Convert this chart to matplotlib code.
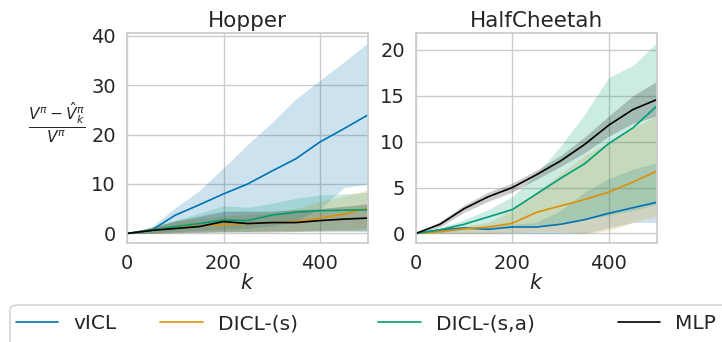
import matplotlib
matplotlib.use("Agg")
import matplotlib.pyplot as plt
from matplotlib.patches import FancyBboxPatch
import seaborn as sns

sns.set_theme(style="whitegrid")
plt.rcParams['font.family'] = ['DejaVu Sans']
plt.rcParams['mathtext.fontset'] = 'dejavusans'

k = [0, 50, 100, 150, 200, 250, 300, 350, 400, 450, 500]
methods = ["vICL", "DICL-(s)", "DICL-(s,a)", "MLP"]
colors = ["#0173b2", "#de8f05", "#029e73", "black"]

# Hopper: mean, lower, upper per method
hop_vicl = [0, 0.6, 3.7, 5.8, 8.0, 10.0, 12.6, 15.1, 18.5, 21.2, 24.0]
hop_vicl_lo = [0, 0.1, 0.4, 0.6, 0.8, 1.0, 1.5, 2.5, 5.0, 9.3, 10.0]
hop_vicl_hi = [0, 1.3, 5.2, 8.7, 13.3, 18.0, 22.4, 27.2, 31.0, 34.7, 38.6]
hop_dicl_s = [0, 0.7, 1.4, 1.5, 1.8, 2.0, 2.2, 2.4, 3.1, 3.9, 5.1]
hop_dicl_s_lo = [0, 0, 0.2, 0.3, 0.3, 0.4, 0.5, 0.5, 0.6, 0.8, 1.0]
hop_dicl_s_hi = [0, 1.0, 2.5, 3.0, 3.5, 3.8, 4.2, 5.0, 6.5, 7.5, 8.8]
hop_dicl_sa = [0, 0.7, 1.4, 2.0, 2.7, 2.6, 3.7, 4.3, 4.6, 4.7, 4.8]
hop_dicl_sa_lo = [0, 0.1, 0.2, 0.3, 0.4, 0.4, 0.5, 0.5, 0.5, 0.5, 0.5]
hop_dicl_sa_hi = [0, 1.3, 2.7, 4.1, 5.6, 5.3, 6.1, 7.1, 7.8, 8.0, 8.3]
hop_mlp = [0, 0.6, 1.0, 1.4, 2.4, 2.0, 2.2, 2.2, 2.6, 2.9, 3.1]
hop_mlp_lo = [0, 0, 0.1, 0.2, 0.3, 0.3, 0.3, 0.4, 0.5, 0.5, 0.5]
hop_mlp_hi = [0, 1.2, 2.5, 3.5, 4.5, 4.5, 4.5, 4.8, 5.0, 5.5, 6.0]

# HalfCheetah
hc_vicl = [0, 0.4, 0.6, 0.45, 0.7, 0.7, 1.0, 1.5, 2.2, 2.8, 3.4]
hc_vicl_lo = [0, 0, 0, 0, 0, 0, 0, 0, 0.6, 1.2, 1.2]
hc_vicl_hi = [0, 0.5, 0.7, 0.8, 1.0, 1.2, 2.5, 4.5, 6.0, 7.0, 7.7]
hc_dicl_s = [0, 0.2, 0.5, 0.7, 1.1, 2.3, 3.0, 3.7, 4.5, 5.6, 6.8]
hc_dicl_s_lo = [0, 0, 0, 0, 0.1, 0.2, 0.2, 0.0, 0.3, 1.2, 1.9]
hc_dicl_s_hi = [0, 0.4, 0.8, 1.2, 2.5, 4.5, 6.5, 8.5, 10.0, 11.5, 12.8]
hc_dicl_sa = [0, 0.4, 1.0, 1.8, 2.6, 4.3, 6.0, 7.6, 9.8, 11.5, 13.9]
hc_dicl_sa_lo = [0, 0.1, 0.4, 0.6, 0.8, 0.9, 1.0, 1.5, 2.0, 2.5, 3.2]
hc_dicl_sa_hi = [0, 0.6, 1.5, 2.6, 4.0, 6.5, 9.5, 13.0, 17.0, 18.3, 20.8]
hc_mlp = [0, 1.0, 2.7, 4.0, 5.0, 6.4, 7.9, 9.7, 11.8, 13.5, 14.6]
hc_mlp_lo = [0, 0.7, 2.3, 3.5, 4.5, 5.9, 7.3, 8.8, 10.6, 12.0, 12.8]
hc_mlp_hi = [0, 1.3, 3.1, 4.5, 5.5, 6.9, 8.5, 10.5, 12.8, 15.0, 16.6]

envs = {
    "Hopper": [(hop_vicl, hop_vicl_lo, hop_vicl_hi),
               (hop_dicl_s, hop_dicl_s_lo, hop_dicl_s_hi),
               (hop_dicl_sa, hop_dicl_sa_lo, hop_dicl_sa_hi),
               (hop_mlp, hop_mlp_lo, hop_mlp_hi)],
    "HalfCheetah": [(hc_vicl, hc_vicl_lo, hc_vicl_hi),
                    (hc_dicl_s, hc_dicl_s_lo, hc_dicl_s_hi),
                    (hc_dicl_sa, hc_dicl_sa_lo, hc_dicl_sa_hi),
                    (hc_mlp, hc_mlp_lo, hc_mlp_hi)],
}

fig = plt.figure(figsize=(7.22, 3.42), dpi=100)
ax1 = fig.add_axes([0.176, 0.2895, 0.334, 0.614])
ax2 = fig.add_axes([0.576, 0.2895, 0.334, 0.614])

for ax, (name, curves) in zip([ax1, ax2], envs.items()):
    for (m, lo, hi), c, lab in zip(curves, colors, methods):
        ax.fill_between(k, lo, hi, color=c, alpha=0.2, linewidth=0)
        ax.plot(k, m, color=c, lw=1.2, label=lab)
    ax.set_xlim(0, 500)
    ax.set_title(name, fontsize=15.5, color=".15", pad=4)
    ax.set_xlabel("$k$", fontsize=15, labelpad=0)
    ax.tick_params(labelsize=14, pad=2)
    ax.set_xticks([0, 200, 400])
    for s in ax.spines.values():
        s.set_color(".8")

ax1.set_yticks([0, 10, 20, 30, 40])
ax2.set_yticks([0, 5, 10, 15, 20])
ax1.set_ylabel(r"$\frac{V^{\pi} - \hat{V}^{\pi}_{k}}{V^{\pi}}$", fontsize=16,
               rotation=0, va="center", ha="center")
ax1.yaxis.set_label_coords(-0.29, 0.575)

# legend box runs off the right/bottom edge, so draw the frame separately
fig.patches.append(FancyBboxPatch((0.0139, -0.1), 1.05, 0.208,
                                  boxstyle="round,pad=0,rounding_size=0.012",
                                  transform=fig.transFigure, facecolor="white",
                                  edgecolor=".8", lw=1, zorder=-1))
handles, labels = ax1.get_legend_handles_labels()
entry_x = [0.022, 0.222, 0.524, 0.856]
for h, lab, x in zip(handles, labels, entry_x):
    fig.legend([h], [lab], loc="center left", frameon=False,
               bbox_to_anchor=(x, 0.054), borderaxespad=0, borderpad=0,
               handlelength=2.1, handletextpad=0.75, fontsize=14.5)

fig.savefig("out.png", dpi=100)
